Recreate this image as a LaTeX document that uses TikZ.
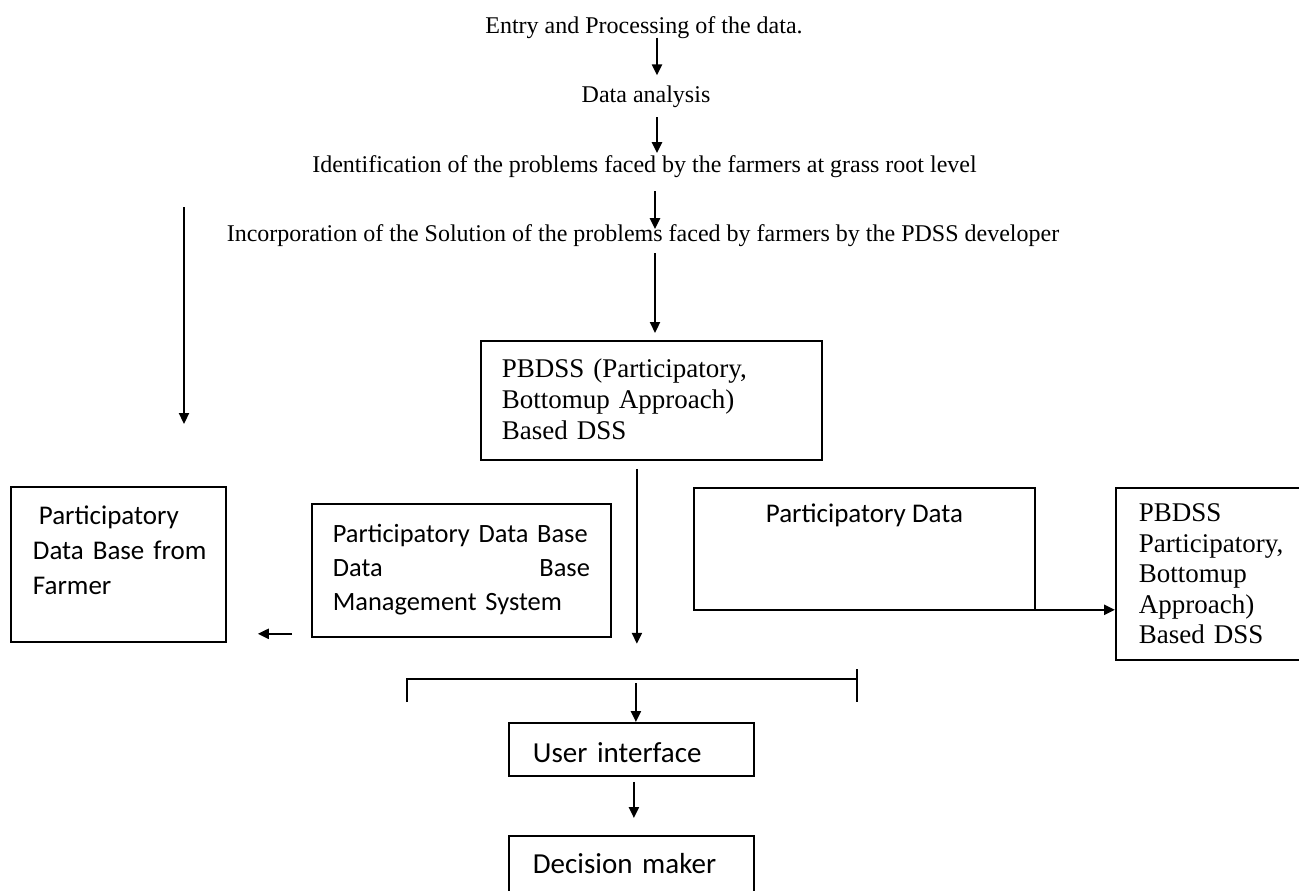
\documentclass[tikz,border=0pt]{standalone}
\usepackage{fontspec}
\setmainfont{Liberation Serif}
\newfontfamily\calibri{Carlito}
\usetikzlibrary{arrows.meta}

\begin{document}
\begin{tikzpicture}[
        x=0.5pt, y=-0.5pt,
        txt/.style={inner sep=0pt, font=\fontsize{12}{14}\selectfont},
        box/.style={draw, line width=0.9pt, anchor=north west, inner ysep=0pt, align=left},
        serifbox/.style={box, font=\fontsize{13.5}{15.5}\selectfont},
        sansbox/.style={box, font=\calibri\fontsize{13.5}{17.5}\selectfont},
        arr/.style={-{Triangle[length=5.5pt,width=5pt]}, line width=1.1pt}
        ]
    \useasboundingbox (0,0) rectangle (1299,890);

    \node[txt, anchor=base] (entry) at (644,33) {Entry and Processing of the data.};
    \node[txt, anchor=base] (analysis) at (646,102) {Data analysis};
    \node[txt, anchor=base] (ident) at (644.5,172) {Identification of the problems faced by the farmers at grass root level};
    \node[txt, anchor=base] (incorp) at (643,241) {Incorporation of the Solution of the problems faced by farmers by the PDSS developer};

    \node[serifbox, inner xsep=10.5pt, text width=149.5pt, text height=18.5pt, text depth=41pt] (pbdss) at (480,340)
        {PBDSS (Participatory,\\ Bottomup Approach)\\ Based DSS};
    \node[sansbox, inner xsep=11pt, text width=85.5pt, text height=19pt, text depth=58.5pt] (farmer) at (10,486)
        {\hspace*{3pt}Participatory\\ \mbox{Data Base from}\\ Farmer};
    \node[sansbox, font=\calibri\fontsize{13.2}{17}\selectfont, inner xsep=10.5pt, text width=128.5pt, text height=19.5pt, text depth=47pt] (dbms) at (311,503)
        {\mbox{Participatory Data Base}\\ Data\hfill Base\\ Management System};
    \node[sansbox, inner xsep=0pt, minimum width=170.5pt, text height=17.5pt, text depth=43.5pt] (pdata) at (693,487)
        {Participatory Data};
    \node[serifbox, font=\fontsize{13.5}{15.25}\selectfont, inner xsep=11.5pt, text width=77pt, text height=17pt, text depth=69pt] (pbdssr) at (1115,487)
        {PBDSS\\ Participatory,\\ Bottomup\\ Approach)\\ Based DSS};
    \node[sansbox, font=\calibri\fontsize{14.5}{17.5}\selectfont, inner xsep=12pt, text width=98.5pt, text height=20pt, text depth=6.5pt] (user) at (508,722)
        {User interface};
    \node[sansbox, font=\calibri\fontsize{14.5}{17.5}\selectfont, inner xsep=12pt, text width=98.5pt, text height=19pt, text depth=30pt] (decision) at (508,835)
        {Decision maker};

    \coordinate (fbtop) at (184,207);
    \coordinate (busL) at (407,679);
    \coordinate (busR) at (857,679);

    \draw[arr] ([xshift=6.5pt,yshift=0.5pt]entry.south) -- ([xshift=5.5pt,yshift=4.8pt]analysis.north);
    \draw[arr] ([xshift=5.5pt,yshift=-4.9pt]analysis.south) -- ([xshift=6.25pt,yshift=0.8pt]ident.north);
    \draw[arr] ([xshift=5.25pt,yshift=-6.9pt]ident.south) -- ([xshift=6pt,yshift=-2.7pt]incorp.north);
    \draw[arr] ([xshift=6pt,yshift=-3.4pt]incorp.south) -- ([xshift=1.8pt,yshift=3.5pt]pbdss.north);
    \draw[arr] (fbtop) -- ++(0,217);
    \draw[arr] ([xshift=-7.25pt,yshift=-4pt]pbdss.south) -- ++(0,175);
    \draw[arr] ([xshift=-9.5pt,yshift=2pt]dbms.south west) -- ([xshift=15.5pt,yshift=4.5pt]farmer.south east);
    \draw[arr] ([yshift=0.5pt]pdata.south east) -- ([yshift=25.5pt]pbdssr.south west);

    \draw[line width=0.9pt] ([yshift=-11.5pt]busL) -- (busL) -- (busR);
    \draw[line width=0.9pt] ([yshift=5pt]busR) -- ([yshift=-11.5pt]busR);
    \draw[arr] ([xshift=2.25pt,yshift=19.5pt]user.north) -- ([xshift=2.25pt]user.north);
    \draw[arr] ([xshift=1.25pt,yshift=-2.5pt]user.south) -- ([xshift=1.25pt,yshift=8.5pt]decision.north);
\end{tikzpicture}
\end{document}
